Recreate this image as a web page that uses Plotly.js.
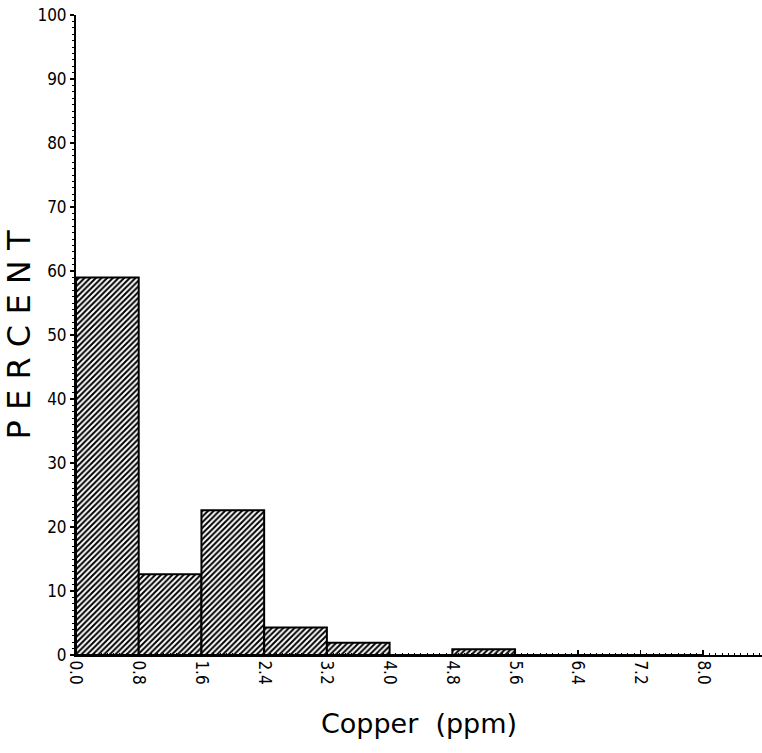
<!DOCTYPE html>
<html>
<head>
<meta charset="utf-8">
<script src="https://cdn.plot.ly/plotly-3.0.1.min.js"></script>
<style>html,body{margin:0;padding:0;background:#fff;}#chart{width:762px;height:753px;}</style>
</head>
<body>
<div id="chart"></div>
<script>
// Bin lower edges (ppm) and percent of samples in each bin
const binStarts = [0.0, 0.8, 1.6, 2.4, 3.2, 4.0, 4.8, 5.6, 6.4, 7.2];
const binWidth = 0.8;
const percent = [59.0, 12.6, 22.6, 4.3, 1.9, 0.0, 0.9, 0.0, 0.0, 0.0];
const xTickVals = [0.0, 0.8, 1.6, 2.4, 3.2, 4.0, 4.8, 5.6, 6.4, 7.2, 8.0];
const xTickText = ["0.0", "0.8", "1.6", "2.4", "3.2", "4.0", "4.8", "5.6", "6.4", "7.2", "8.0"];
const yTickVals = [0, 10, 20, 30, 40, 50, 60, 70, 80, 90, 100];

const tickFont = {family: "'Liberation Sans Narrow', 'DejaVu Sans Condensed', 'DejaVu Sans', sans-serif", size: 17, color: "#000"};

const trace = {
  type: "bar",
  x: binStarts,
  y: percent,
  width: binStarts.map(() => binWidth),
  offset: 0,
  marker: {
    color: "#fff",
    line: {color: "#000", width: 2},
    pattern: {shape: "/", fgcolor: "#000", bgcolor: "#fff", size: 4, solidity: 0.5}
  },
  hoverinfo: "x+y"
};

const layout = {
  width: 762,
  height: 753,
  margin: {l: 76, r: 0, t: 15, b: 98},
  paper_bgcolor: "#fff",
  plot_bgcolor: "#fff",
  showlegend: false,
  bargap: 0,
  xaxis: {
    range: [0, 8.75],
    tickmode: "array",
    tickvals: xTickVals,
    ticktext: xTickText,
    tickangle: 90,
    tickfont: tickFont,
    ticks: "inside",
    ticklen: 5,
    tickwidth: 1.5,
    tickcolor: "#000",
    minor: {dtick: 0.08, tick0: 0, ticks: "inside", ticklen: 2, tickwidth: 1, tickcolor: "#000"},
    showline: true,
    linecolor: "#000",
    linewidth: 2,
    showgrid: false,
    zeroline: false,
    title: {text: "Copper  (ppm)", font: {family: "'DejaVu Sans', sans-serif", size: 27, color: "#000"}, standoff: 30}
  },
  yaxis: {
    range: [0, 100],
    tickmode: "array",
    tickvals: yTickVals,
    tickfont: tickFont,
    ticks: "outside",
    ticklen: 4,
    tickwidth: 2,
    tickcolor: "#000",
    minor: {dtick: 1, tick0: 0, ticks: "outside", ticklen: 2, tickwidth: 1, tickcolor: "#000"},
    showline: true,
    linecolor: "#000",
    linewidth: 2,
    showgrid: false,
    zeroline: false,
    title: {text: "P E R C E N T", font: {family: "'DejaVu Sans', sans-serif", size: 32, color: "#000"}, standoff: 6}
  }
};

Plotly.newPlot("chart", [trace], layout, {displayModeBar: false, staticPlot: true});
</script>
</body>
</html>
